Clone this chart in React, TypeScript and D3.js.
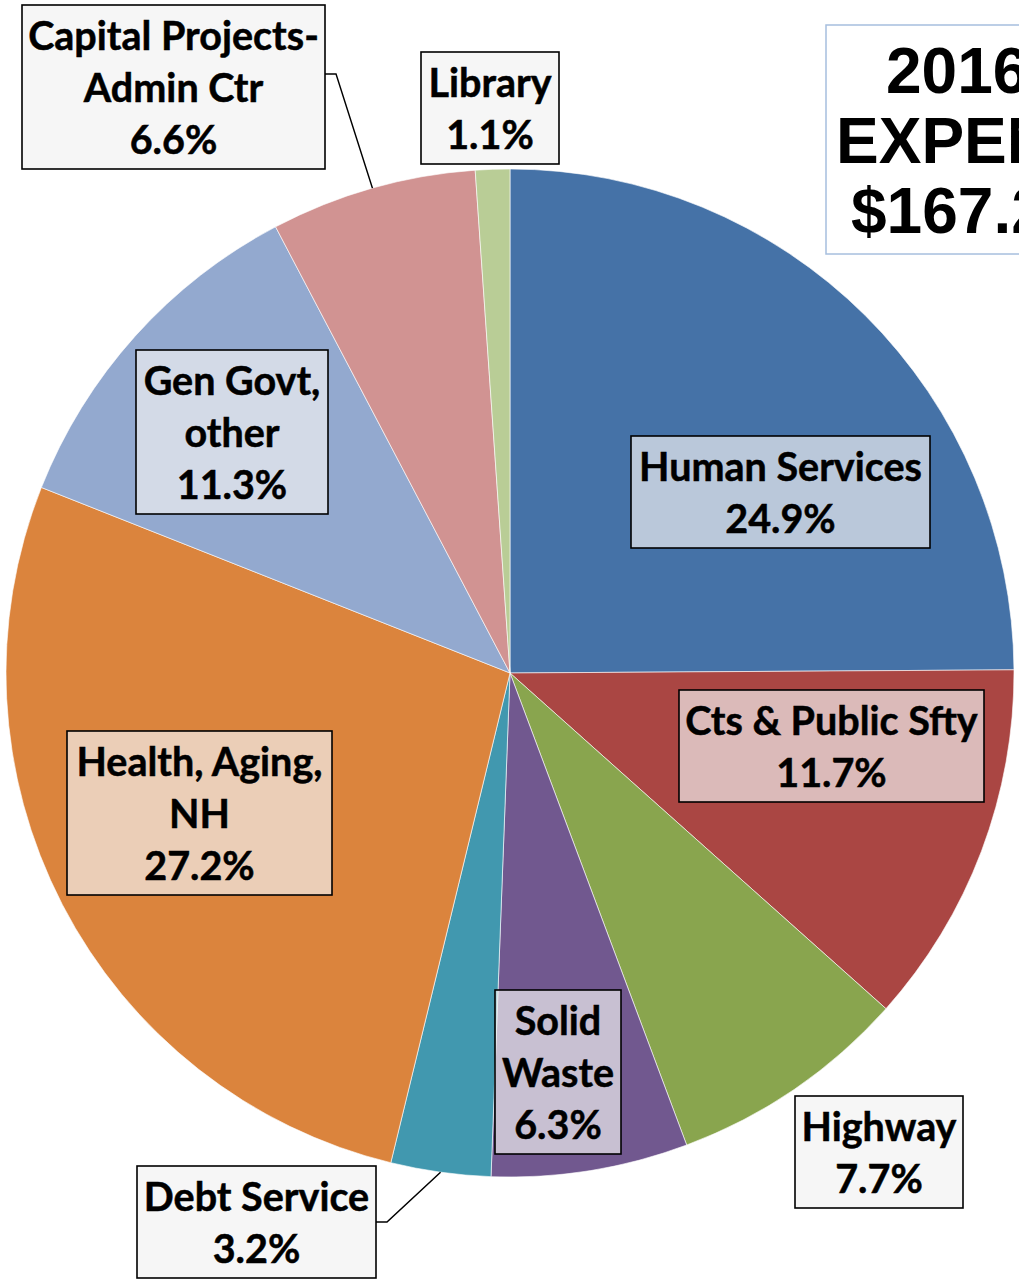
import React from "react";
import * as d3 from "d3";

const categories = [
  "Human Services",
  "Cts & Public Sfty",
  "Highway",
  "Solid Waste",
  "Debt Service",
  "Health, Aging, NH",
  "Gen Govt, other",
  "Capital Projects-Admin Ctr",
  "Library",
];
const values = [24.9, 11.7, 7.7, 6.3, 3.2, 27.2, 11.3, 6.6, 1.1];
const colors = ["#4572A7", "#AA4643", "#89A54E", "#71588F", "#4198AF", "#DB843D", "#93A9CF", "#D19392", "#B9CD96"];
const labelLines = [
  ["Human Services"],
  ["Cts & Public Sfty"],
  ["Highway"],
  ["Solid", "Waste"],
  ["Debt Service"],
  ["Health, Aging,", "NH"],
  ["Gen Govt,", "other"],
  ["Capital Projects-", "Admin Ctr"],
  ["Library"],
];
const titleLines = ["2016", "EXPENDITURES", "$167.2M"];

// label box layout (x, y, width) — manual placements as in the original
const boxLayout = [
  { x: 631, y: 436, w: 299 },
  { x: 679, y: 690, w: 305 },
  { x: 795, y: 1096, w: 168 },
  { x: 495, y: 990, w: 126 },
  { x: 137, y: 1166, w: 239, leader: true },
  { x: 67, y: 731, w: 265 },
  { x: 136, y: 350, w: 192 },
  { x: 22, y: 5, w: 303, leader: true },
  { x: 421, y: 52, w: 138 },
];

const W = 1019;
const H = 1279;
const cx = 510;
const cy = 673;
const R = 504;
const LINE = 52;

export default function App() {
  const pie = d3.pie<number>().sort(null).value((d) => d);
  const arcs = pie(values);
  const arc = d3.arc<d3.PieArcDatum<number>>().innerRadius(0).outerRadius(R);
  const fmt = d3.format(".1f");

  return (
    <svg
      width={W}
      height={H}
      style={{ position: "absolute", left: 0, top: 0, overflow: "hidden", background: "#fff" }}
    >
      <g transform={`translate(${cx},${cy})`}>
        {arcs.map((a, i) => (
          <path key={i} d={arc(a) || ""} fill={colors[i]} stroke="#ffffff" strokeOpacity={0.6} strokeWidth={1} />
        ))}
      </g>
      {/* leader lines */}
      {arcs.map((a, i) => {
        const b = boxLayout[i];
        if (!b.leader) return null;
        const mid = (a.startAngle + a.endAngle) / 2;
        const px = cx + R * Math.sin(mid);
        const py = cy - R * Math.cos(mid);
        const ex = b.x + b.w;
        const n = labelLines[i].length + 1;
        const ey = b.y + (n * LINE + 8) * (i === 4 ? 0.5 : 0.42);
        return (
          <polyline
            key={"l" + i}
            points={`${ex},${ey} ${ex + 11},${ey} ${px},${py}`}
            fill="none"
            stroke="#000"
            strokeWidth={1.5}
          />
        );
      })}
      {/* labels */}
      {arcs.map((a, i) => {
        const b = boxLayout[i];
        const lines = [...labelLines[i], fmt(values[i]) + "%"];
        const h = lines.length * LINE + 8;
        return (
          <g key={"t" + i}>
            <rect x={b.x} y={b.y} width={b.w} height={h} fill="#f2f2f2" fillOpacity={0.68} stroke="#000" strokeWidth={1.6} />
            {lines.map((ln, j) => (
              <text
                key={j}
                x={b.x + b.w / 2}
                y={b.y + 45 + j * LINE}
                textAnchor="middle"
                fontFamily="Lato, 'Noto Sans', sans-serif"
                fontWeight="bold"
                fontSize={39.5}
                fill="#000"
                stroke="#000"
                strokeWidth={0.5}
              >
                {ln}
              </text>
            ))}
          </g>
        );
      })}
      {/* title */}
      <rect x={826} y={25} width={260} height={229} fill="#fff" stroke="#A7BFDE" strokeWidth={1.5} />
      {titleLines.map((t, j) => (
        <text
          key={"ti" + j}
          x={[886, 836, 851][j]}
          y={93 + j * 70}
          fontFamily="'Liberation Sans', Arial, sans-serif"
          fontWeight="bold"
          fontSize={64}
          fill="#000"
        >
          {t}
        </text>
      ))}
    </svg>
  );
}
